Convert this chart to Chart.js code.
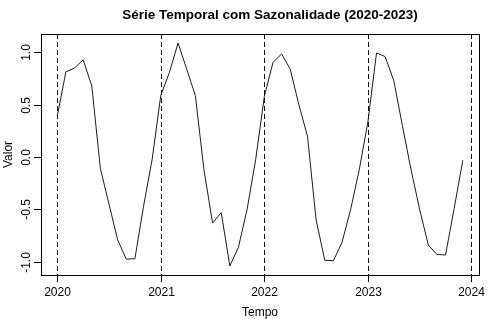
<!DOCTYPE html>
<html>
<head>
<meta charset="utf-8">
<script src="https://cdn.jsdelivr.net/npm/chart.js@4.4.1/dist/chart.umd.min.js"></script>
<style>
  html, body { margin: 0; padding: 0; background: #fff; }
  #wrap { width: 492px; height: 319px; }
</style>
</head>
<body>
<div id="wrap"><canvas id="grafico" width="492" height="319"></canvas></div>
<script>
// valores mensais, jan/2020 .. dez/2023
const valores2020 = [0.39, 0.815, 0.85, 0.93, 0.68, -0.11, -0.45, -0.79, -0.975, -0.97, -0.47, -0.02];
const valores2021 = [0.59, 0.81, 1.09, 0.84, 0.59, -0.12, -0.63, -0.53, -1.04, -0.86, -0.50, -0.02];
const valores2022 = [0.58, 0.905, 0.985, 0.84, 0.50, 0.20, -0.60, -0.985, -0.99, -0.815, -0.50, -0.12];
const valores2023 = [0.335, 0.995, 0.96, 0.73, 0.30, -0.12, -0.50, -0.84, -0.93, -0.935, -0.49, -0.03];
const anoInicial = 2020;
const ticksX = [2020, 2021, 2022, 2023, 2024];
const ticksY = [-1.0, -0.5, 0.0, 0.5, 1.0];
const ticksYLabels = ['-1.0', '-0.5', '0.0', '0.5', '1.0'];
const linhasVerticais = [2020, 2021, 2022, 2023, 2024];

const serie = [...valores2020, ...valores2021, ...valores2022, ...valores2023]
    .map((v, i) => ({ x: anoInicial + i / 12, y: v }));

const fonte = '"Liberation Sans", Arial, Helvetica, sans-serif';

const eixosR = {
    id: 'eixosR',
    beforeDatasetsDraw(chart) {
        const { ctx, chartArea: a, scales: { x } } = chart;
        ctx.save();
        ctx.strokeStyle = '#000';
        ctx.lineWidth = 1;
        ctx.setLineDash([5, 3]);
        linhasVerticais.forEach(ano => {
            const px = Math.round(x.getPixelForValue(ano)) + 0.5;
            ctx.beginPath();
            ctx.moveTo(px, a.top);
            ctx.lineTo(px, a.bottom);
            ctx.stroke();
        });
        ctx.restore();
    },
    afterDraw(chart) {
        const { ctx, chartArea: a, scales: { x, y } } = chart;
        ctx.save();
        ctx.strokeStyle = '#000';
        ctx.fillStyle = '#000';
        ctx.lineWidth = 1;
        ctx.setLineDash([]);
        // caixa
        ctx.strokeRect(Math.round(a.left) + 0.5, Math.round(a.top) + 0.5,
            Math.round(a.right - a.left), Math.round(a.bottom - a.top));

        // eixo x
        ctx.font = '12px ' + fonte;
        ctx.textAlign = 'center';
        ctx.textBaseline = 'middle';
        ticksX.forEach(t => {
            const px = Math.round(x.getPixelForValue(t)) + 0.5;
            ctx.beginPath();
            ctx.moveTo(px, a.bottom);
            ctx.lineTo(px, a.bottom + 7);
            ctx.stroke();
            ctx.fillText(String(t), px, a.bottom + 18);
        });

        // eixo y
        ticksY.forEach((t, i) => {
            const py = Math.round(y.getPixelForValue(t)) + 0.5;
            ctx.beginPath();
            ctx.moveTo(a.left, py);
            ctx.lineTo(a.left - 7, py);
            ctx.stroke();
            ctx.save();
            ctx.translate(a.left - 14, py);
            ctx.rotate(-Math.PI / 2);
            ctx.fillText(ticksYLabels[i], 0, 0);
            ctx.restore();
        });

        // rótulos
        ctx.fillText('Tempo', (a.left + a.right) / 2, a.bottom + 38);
        ctx.save();
        ctx.translate(9, (a.top + a.bottom) / 2);
        ctx.rotate(-Math.PI / 2);
        ctx.fillText('Valor', 0, 0);
        ctx.restore();

        ctx.font = 'bold 13.5px ' + fonte;
        ctx.fillText('Série Temporal com Sazonalidade (2020-2023)', (a.left + a.right) / 2 + 10, 15);
        ctx.restore();
    }
};

new Chart(document.getElementById('grafico'), {
    type: 'line',
    data: {
        datasets: [{
            label: 'Valor',
            data: serie,
            borderColor: '#1a1a1a',
            borderWidth: 1,
            pointRadius: 0,
            fill: false,
            tension: 0
        }]
    },
    options: {
        responsive: false,
        animation: false,
        devicePixelRatio: 1,
        layout: { padding: { left: 41, top: 34, right: 13, bottom: 44 } },
        plugins: { legend: { display: false }, tooltip: { enabled: false } },
        scales: {
            x: { type: 'linear', display: false, min: 2019.843, max: 2024.073 },
            y: { display: false, min: -1.126, max: 1.176 }
        }
    },
    plugins: [eixosR]
});
</script>
</body>
</html>
